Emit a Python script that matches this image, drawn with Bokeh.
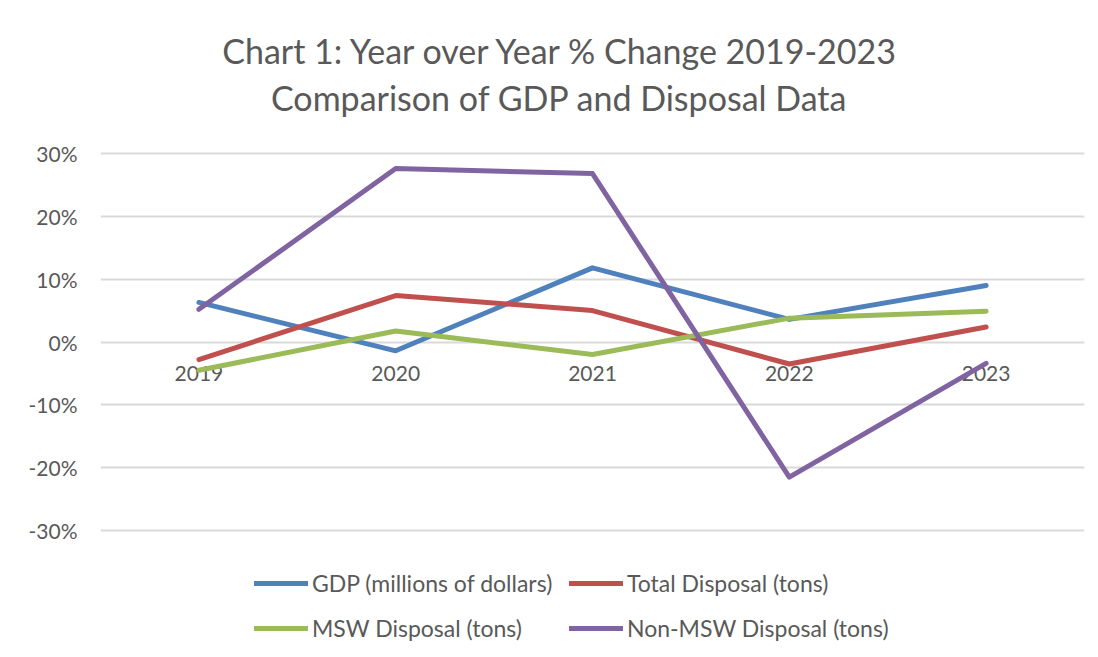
from bokeh.plotting import figure
from bokeh.models import Range1d, FactorRange, Label, Legend, LegendItem, NumeralTickFormatter, FixedTicker
from bokeh.core.properties import value
from bokeh.embed import file_html
from bokeh.resources import INLINE

years = ["2019", "2020", "2021", "2022", "2023"]
gdp = [0.063, -0.014, 0.118, 0.036, 0.090]
total_disposal = [-0.028, 0.074, 0.050, -0.035, 0.024]
msw_disposal = [-0.045, 0.0175, -0.020, 0.038, 0.049]
non_msw_disposal = [0.052, 0.276, 0.268, -0.215, -0.034]
series_names = ["GDP (millions of dollars)", "Total Disposal (tons)",
                "MSW Disposal (tons)", "Non-MSW Disposal (tons)"]
series_colors = ["#4F81BD", "#C0504D", "#9BBB59", "#8064A2"]
y_ticks = [-0.3, -0.2, -0.1, 0.0, 0.1, 0.2, 0.3]
title_lines = ["Chart 1: Year over Year % Change 2019-2023",
               "Comparison of GDP and Disposal Data"]

FONT = "Lato"
GREY = "#595959"

# the frame spans the full height: the top holds the title, the bottom the legend
p = figure(width=1098, height=657, title=None,
           x_range=FactorRange(*years, range_padding=0),
           y_range=Range1d(-0.5021, 0.5435),
           output_backend="svg", toolbar_location=None,
           x_axis_location=None,
           min_border_left=100, min_border_right=14,
           min_border_top=0, min_border_bottom=0)

p.outline_line_color = None
p.background_fill_color = "white"
p.border_fill_color = "white"

p.xgrid.visible = False
p.ygrid.grid_line_color = "#d9d9d9"
p.ygrid.grid_line_width = 2

yax = p.yaxis[0]
yax.ticker = FixedTicker(ticks=y_ticks)
yax.formatter = NumeralTickFormatter(format="0%")
yax.axis_line_color = None
yax.major_tick_line_color = None
yax.minor_tick_line_color = None
yax.major_tick_out = 0
yax.major_label_standoff = 23
yax.major_label_text_font = FONT
yax.major_label_text_font_size = "21px"
yax.major_label_text_color = GREY

# category labels sitting under the zero line
p.text(x=years, y=[0.0] * len(years), text=years,
       text_align="center", text_baseline="middle", y_offset=31,
       text_font=value(FONT), text_font_size="21px", text_color=GREY)

items = []
for name, vals, col in zip(series_names,
                           [gdp, total_disposal, msw_disposal, non_msw_disposal],
                           series_colors):
    r = p.line(years, vals, line_color=col, line_width=5,
               line_cap="round", line_join="round")
    items.append(LegendItem(label=name, renderers=[r]))

legend = Legend(items=items, orientation="horizontal", ncols=2,
                location=(154, 14),
                label_text_font=FONT, label_text_font_size="23px",
                label_text_color=GREY, glyph_width=54, glyph_height=30,
                label_height=30, label_width=242, spacing=15, padding=0,
                margin=0, label_standoff=4, border_line_color=None,
                background_fill_alpha=0)
p.add_layout(legend, "center")

for txt, xs, ys in zip(title_lines, [461, 459], [607, 560]):
    p.add_layout(Label(x=xs, y=ys, x_units="screen", y_units="screen",
                       text=txt, text_align="center", text_baseline="middle",
                       text_font=FONT, text_font_size="34px",
                       text_color=GREY))

open("out.html", "w").write(file_html(p, INLINE))
